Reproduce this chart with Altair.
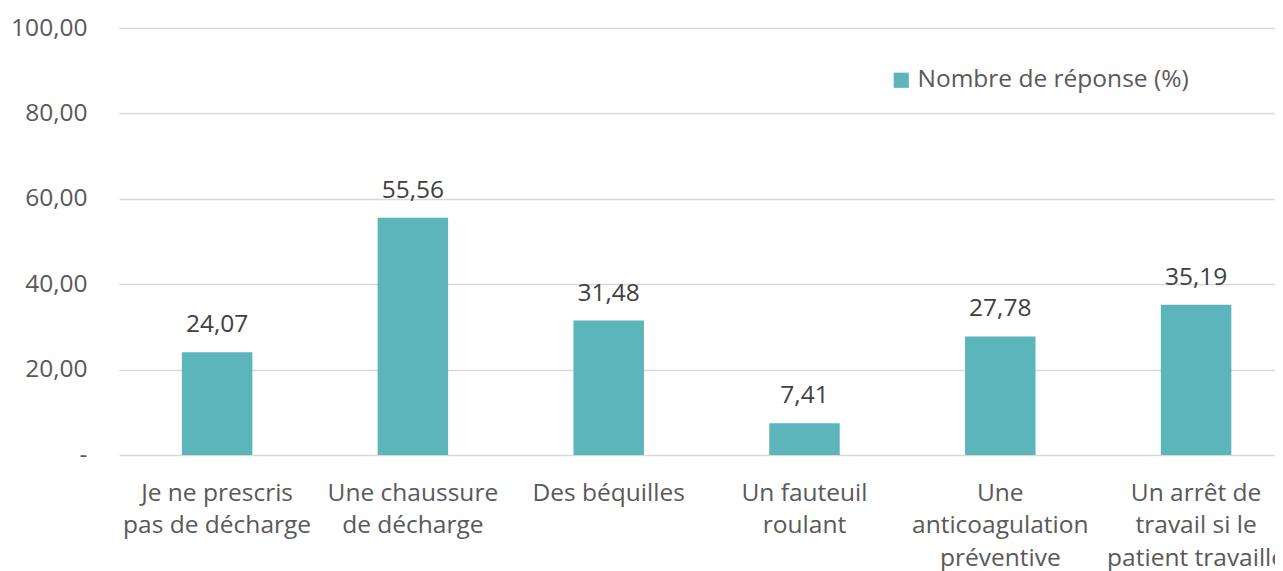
import altair as alt
import pandas as pd

categories = [
    "Je ne prescris|pas de décharge",
    "Une chaussure|de décharge",
    "Des béquilles",
    "Un fauteuil|roulant",
    "Une|anticoagulation|préventive",
    "Un arrêt de|travail si le|patient travaille",
]
values = [24.07, 55.56, 31.48, 7.41, 27.78, 35.19]
series_name = "Nombre de réponse (%)"
y_ticks = [0, 20, 40, 60, 80, 100]

df = pd.DataFrame({"cat": categories, "v": values, "series": [series_name] * len(values)})

FONT = "Open Sans"
FS = 24.5
BAR = "#5BB5BA"

x_enc = alt.X(
    "cat:N",
    sort=categories,
    title=None,
    scale=alt.Scale(paddingInner=0.64, paddingOuter=0.272, align=0.59),
    axis=alt.Axis(
        labelExpr="split(datum.label, '|')",
        labelAngle=0,
        labelFontSize=FS,
        labelFont=FONT,
        labelColor="#595959",
        labelLineHeight=32.5,
        labelPadding=26,
        ticks=False,
        domain=False,
        grid=False,
        labelLimit=300,
    ),
)

y_enc = alt.Y(
    "v:Q",
    title=None,
    scale=alt.Scale(domain=[0, 100], nice=False),
    axis=alt.Axis(
        values=y_ticks,
        labelExpr="datum.value == 0 ? '-' : replace(format(datum.value, '.2f'), '.', ',')",
        labelFontSize=FS,
        labelFont=FONT,
        labelColor="#595959",
        labelPadding=32,
        ticks=False,
        domain=False,
        gridColor="#D9D9D9",
        gridWidth=1.5,
    ),
)

base = alt.Chart(df).transform_calculate(
    lab="replace(format(datum.v, '.2f'), '.', ',')"
).encode(x=x_enc, y=y_enc)

bars = base.mark_bar(color=BAR).encode(
    color=alt.Color(
        "series:N",
        title=None,
        scale=alt.Scale(range=[BAR]),
        legend=alt.Legend(
            orient="none",
            legendX=770,
            legendY=40,
            symbolType="square",
            symbolSize=230,
            symbolStrokeWidth=0,
            labelFontSize=FS,
            labelFont=FONT,
            labelColor="#595959",
            labelLimit=400,
        ),
    ),
)

labels = base.mark_text(
    baseline="bottom", dy=-15, fontSize=FS, font=FONT, color="#404040"
).encode(text="lab:N")

chart = (
    alt.layer(bars, labels)
    .properties(
        width=1156,
        height=427,
        padding={"left": 111, "top": 20, "right": 0, "bottom": 120},
        autosize=alt.AutoSizeParams(type="none"),
    )
    .configure_view(stroke="transparent", strokeWidth=0)
)

chart.save("out.html", embed_options={"renderer": "svg", "actions": False})
